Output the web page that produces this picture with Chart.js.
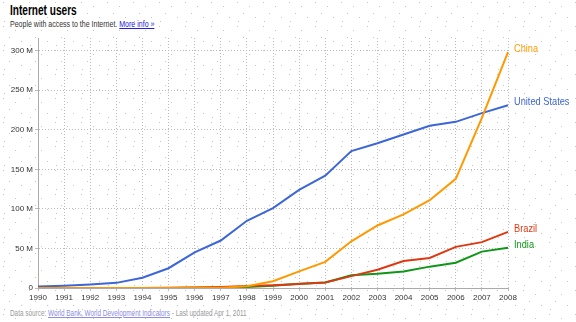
<!DOCTYPE html>
<html>
<head>
<meta charset="utf-8">
<script src="https://cdn.jsdelivr.net/npm/chart.js@4"></script>
<style>
  html, body { margin: 0; padding: 0; }
  body {
    width: 576px; height: 322px; position: relative; overflow: hidden;
    background-color: #fff;
    background-image: url("data:image/svg+xml,%3Csvg xmlns='http://www.w3.org/2000/svg' width='26' height='24'%3E%3Cg fill='%23c4c4c4'%3E%3Crect x='3' y='2' width='1' height='1'/%3E%3Crect x='15' y='6' width='1' height='1'/%3E%3Crect x='9' y='13' width='1' height='1'/%3E%3Crect x='21' y='17' width='1' height='1'/%3E%3Crect x='4' y='21' width='1' height='1'/%3E%3C/g%3E%3C/svg%3E");
    font-family: "Liberation Sans", Arial, sans-serif;
  }
  #c { position: absolute; left: 0; top: 0; }
  .title, .sub, .foot { position: absolute; white-space: nowrap; transform-origin: 0 0; }
  .title { left: 10px; top: 2px; font-size: 14px; font-weight: bold; color: #000; transform: scaleX(0.72); }
  .sub { left: 10px; top: 19px; font-size: 9px; color: #333; transform: scaleX(0.78); }
  .sub a { color: #2222dd; }
  .foot { left: 10px; top: 308px; font-size: 9px; color: #999; transform: scaleX(0.71); }
  .foot a { color: #8c8ce0; }
</style>
</head>
<body>
<div class="title">Internet users</div>
<div class="sub">People with access to the Internet. <a href="#">More info »</a></div>
<div class="foot">Data source: <a href="#">World Bank, World Development Indicators</a> - Last updated Apr 1, 2011</div>
<canvas id="c" width="576" height="322"></canvas>
<script>
// years on the x axis
var years = ['1990','1991','1992','1993','1994','1995','1996','1997','1998','1999',
             '2000','2001','2002','2003','2004','2005','2006','2007','2008'];

// internet users, millions
var unitedStates = [2, 3, 4.5, 6.5, 13, 25, 45, 60, 85, 101, 124, 142, 173, 183, 194, 205, 210, 221, 231];
var china        = [0, 0, 0, 0, 0.1, 0.1, 0.2, 0.4, 2.1, 8.5, 21, 33, 59, 79, 93, 111, 138, 215, 298];
var brazil       = [0, 0, 0, 0, 0, 0.2, 0.7, 1.3, 2.5, 3.5, 5, 7, 15, 23, 34, 38, 52, 58, 71];
var india        = [0, 0, 0, 0, 0, 0.1, 0.2, 0.7, 1.4, 2.8, 5.5, 7, 16, 18, 21, 27, 32, 46, 51];

var yTicks = [0, 50, 100, 150, 200, 250, 300];

var seriesNames  = ['China', 'United States', 'Brazil', 'India'];
var seriesColors = ['#ff9900', '#3d66d6', '#dc3912', '#109618'];

var tickFont = { size: 8, family: '"Liberation Sans", Arial, sans-serif' };

// labels at the end of each line (squeezed a bit to look like the narrow font)
var endLabels = {
    id: 'endLabels',
    afterDatasetsDraw: function(chart) {
        var ctx = chart.ctx;
        chart.data.datasets.forEach(function(ds, i) {
            var meta = chart.getDatasetMeta(i);
            var pt = meta.data[meta.data.length - 1];
            ctx.save();
            ctx.translate(pt.x + 6, pt.y - 3);
            ctx.scale(0.84, 1);
            ctx.font = '11px "Liberation Sans", Arial, sans-serif';
            ctx.textBaseline = 'middle';
            ctx.fillStyle = ds.borderColor;
            ctx.fillText(ds.label, 0, 0);
            ctx.restore();
        });
    }
};

var ctx = document.getElementById('c');
var myChart = new Chart(ctx, {
    type: 'line',
    data: {
        labels: years,
        datasets: [
            { label: seriesNames[0], data: china,        borderColor: seriesColors[0] },
            { label: seriesNames[1], data: unitedStates, borderColor: seriesColors[1] },
            { label: seriesNames[2], data: brazil,       borderColor: seriesColors[2] },
            { label: seriesNames[3], data: india,        borderColor: seriesColors[3] }
        ]
    },
    options: {
        responsive: false,
        animation: false,
        elements: {
            line: { borderWidth: 2, tension: 0 },
            point: { radius: 0 }
        },
        layout: { padding: { top: 38, right: 68, bottom: 20, left: 0 } },
        plugins: {
            legend: { display: false },
            tooltip: { enabled: false }
        },
        scales: {
            x: {
                offset: false,
                afterFit: function(s) { s.height = 14; },
                grid: { color: '#bbb', tickLength: 3 },
                border: { display: true, color: '#aaa', dash: [1, 2] },
                ticks: {
                    color: '#333',
                    font: tickFont,
                    padding: 2,
                    maxRotation: 0,
                    autoSkip: false
                }
            },
            y: {
                min: 0,
                max: 316,
                afterFit: function(s) { s.width = 38; },
                afterBuildTicks: function(s) {
                    s.ticks = yTicks.map(function(v) { return { value: v }; });
                },
                grid: { color: '#bbb', tickLength: 3 },
                border: { display: true, color: '#aaa', dash: [1, 2] },
                ticks: {
                    color: '#333',
                    font: tickFont,
                    padding: 2,
                    callback: function(v) { return v === 0 ? '0' : v + ' M'; }
                }
            }
        }
    },
    plugins: [endLabels]
});
</script>
</body>
</html>
